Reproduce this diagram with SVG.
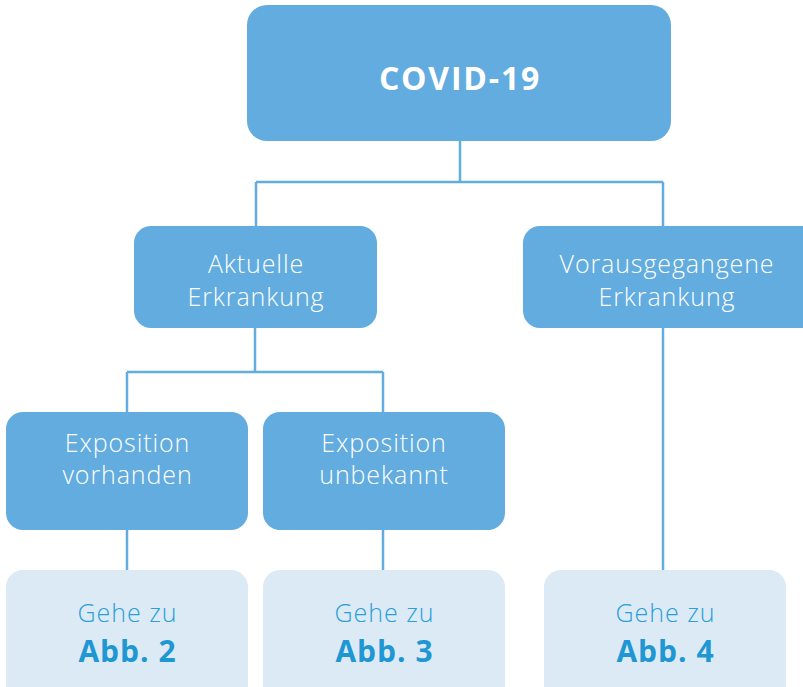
<svg xmlns="http://www.w3.org/2000/svg" width="803" height="687" viewBox="0 0 803 687">
<style>
.box{fill:#62acdf}
.go{fill:#dceaf6}
.t{font-family:"Open Sans","Noto Sans","Liberation Sans",sans-serif;font-weight:300;font-size:25px;fill:#ffffff;text-anchor:middle;letter-spacing:0.9px}
.h{font-family:"Open Sans","Noto Sans","Liberation Sans",sans-serif;font-weight:700;font-size:32px;fill:#ffffff;text-anchor:middle;letter-spacing:1.8px}
.g{font-family:"Open Sans","Noto Sans","Liberation Sans",sans-serif;font-weight:300;font-size:25px;fill:#2a9fd8;text-anchor:middle;letter-spacing:1px}
.a{font-family:"Open Sans","Noto Sans","Liberation Sans",sans-serif;font-weight:700;font-size:30px;fill:#1f97d3;text-anchor:middle;letter-spacing:1px}
.c{fill:none;stroke:#62acdf;stroke-width:2.5}
</style>
<g id="connectors">
<path class="c" d="M460 141V182M256 182H663M256 182V226M663 182V226"/>
<path class="c" d="M255 328V372M127 372H383M127 372V412M383 372V412"/>
<path class="c" d="M127 530V570M383 530V570M663 328V570"/>
</g>
<g id="covid"><rect class="box" x="247" y="5" width="424" height="136" rx="20"/><text class="h" x="460" y="90">COVID-19</text></g>
<g id="aktuelle"><rect class="box" x="134" y="226" width="243" height="102" rx="17"/><text class="t" x="256" y="273">Aktuelle</text><text class="t" x="256" y="306">Erkrankung</text></g>
<g id="vorausgegangene"><rect class="box" x="523" y="226" width="300" height="102" rx="17"/><text class="t" x="667" y="273">Vorausgegangene</text><text class="t" x="667" y="306">Erkrankung</text></g>
<g id="exposition-vorhanden"><rect class="box" x="6" y="412" width="242" height="118" rx="17"/><text class="t" x="127.5" y="452">Exposition</text><text class="t" x="127.5" y="484">vorhanden</text></g>
<g id="exposition-unbekannt"><rect class="box" x="263" y="412" width="242" height="118" rx="17"/><text class="t" x="384" y="452">Exposition</text><text class="t" x="384" y="484">unbekannt</text></g>
<g id="abb2"><rect class="go" x="6" y="570" width="242" height="140" rx="17"/><text class="g" x="127.5" y="622">Gehe zu</text><text class="a" x="127.5" y="662">Abb. 2</text></g>
<g id="abb3"><rect class="go" x="263" y="570" width="242" height="140" rx="17"/><text class="g" x="384.5" y="622">Gehe zu</text><text class="a" x="384.5" y="662">Abb. 3</text></g>
<g id="abb4"><rect class="go" x="544" y="570" width="242" height="140" rx="17"/><text class="g" x="665.5" y="622">Gehe zu</text><text class="a" x="665.5" y="662">Abb. 4</text></g>
</svg>
